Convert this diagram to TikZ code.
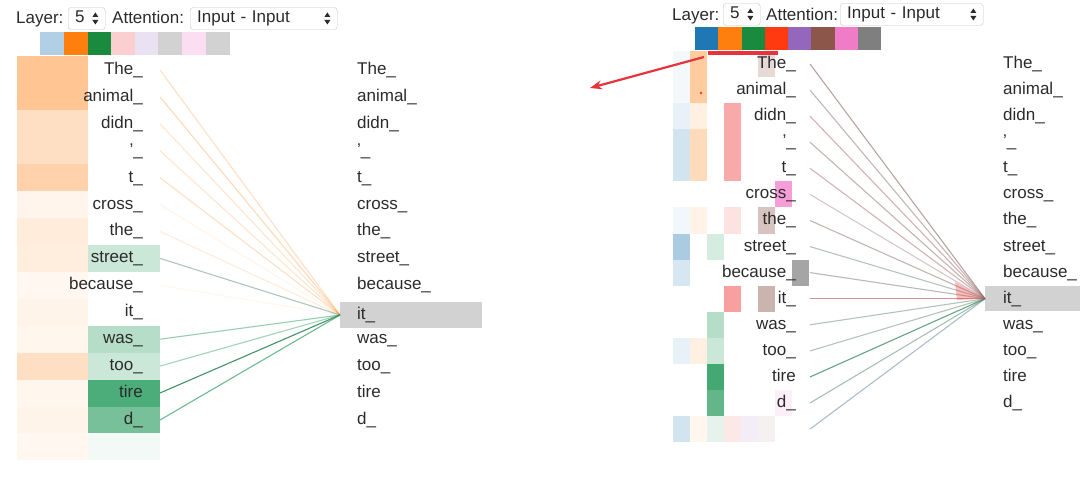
\documentclass[tikz,border=0pt]{standalone}
\usepackage{fontspec}
\setmainfont{Liberation Sans}
\usetikzlibrary{arrows.meta}
\definecolor{hblue}{HTML}{1F77B4}
\definecolor{horange}{HTML}{FF7F0E}
\definecolor{hgreen}{HTML}{1A8A3E}
\definecolor{cgreen}{HTML}{2E9E62}
\definecolor{hred}{HTML}{FF3A10}
\definecolor{cred}{HTML}{F04040}
\definecolor{hpurple}{HTML}{9467BD}
\definecolor{hbrown}{HTML}{8C564B}
\definecolor{hpink}{HTML}{F07CC8}
\definecolor{hgray}{HTML}{7F7F7F}
\definecolor{tokgray}{HTML}{2B2B2B}
\definecolor{hlgray}{HTML}{D2D2D2}
\definecolor{selgray}{HTML}{C4C4C4}
\definecolor{arrowred}{HTML}{E8323C}

\begin{document}
\begin{tikzpicture}[x=1pt, y=-1pt,
    src/.style ={anchor=east, inner xsep=17pt, inner ysep=5.5pt, text height=12pt, text depth=3pt,
                 font=\fontsize{17}{20}\selectfont, text=tokgray},
    tgt/.style ={anchor=west, inner xsep=17pt, inner ysep=5.5pt, text height=12pt, text depth=3pt,
                 text width=108pt, font=\fontsize{17}{20}\selectfont, text=tokgray},
    hdr/.style ={anchor=west, inner sep=0pt, text height=12pt, text depth=3pt,
                 font=\fontsize{17}{20}\selectfont, text=tokgray},
    selbox/.style ={anchor=west, draw=selgray, fill=white, rounded corners=3pt, inner xsep=7pt,
                 inner ysep=0pt, minimum height=22pt, text height=12pt, text depth=3pt, align=left,
                 font=\fontsize{17}{20}\selectfont, text=tokgray},
    att/.style ={line width=1.1pt}]
  \useasboundingbox (0,0) rectangle (1080,481);

  % left panel: header
  \node[hdr] (lay1) at (16,19) {Layer:};
  \node[selbox, text width=23pt] (sel1) at (68,18.5) {5};
  \node[hdr] (atn1) at (112,19) {Attention:};
  \node[selbox, text width=133pt] (mode1) at (190,18.5) {Input - Input};
  \fill[tokgray] (sel1.east) ++(-13,-1.5) -- ++(6,0) -- ++(-3,-4.5) -- cycle
                 (sel1.east) ++(-13,1.5) -- ++(6,0) -- ++(-3,4.5) -- cycle;
  \fill[tokgray] (mode1.east) ++(-13,-1.5) -- ++(6,0) -- ++(-3,-4.5) -- cycle
                 (mode1.east) ++(-13,1.5) -- ++(6,0) -- ++(-3,4.5) -- cycle;

  \fill[hblue!35] (40,32) rectangle (64,55);
  \fill[horange] (64,32) rectangle (88,55);
  \fill[hgreen] (88,32) rectangle (111,55);
  \fill[cred!25] (111,32) rectangle (135,55);
  \fill[hpurple!20] (135,32) rectangle (158,55);
  \fill[hgray!35] (158,32) rectangle (182,55);
  \fill[hpink!25] (182,32) rectangle (206,55);
  \fill[hgray!35] (206,32) rectangle (230,55);

  % left panel: attention cells
  \fill[horange!45] (17,56.5) rectangle (88,110.4);
  \fill[horange!25] (17,110.4) rectangle (88,164.2);
  \fill[horange!35] (17,164.2) rectangle (88,191.1);
  \fill[horange!8] (17,191.1) rectangle (88,218.1);
  \fill[horange!15] (17,218.1) rectangle (88,245.0);
  \fill[horange!14] (17,245.0) rectangle (88,271.9);
  \fill[horange!6] (17,271.9) rectangle (88,298.8);
  \fill[horange!9] (17,298.8) rectangle (88,325.7);
  \fill[horange!7] (17,325.7) rectangle (88,352.7);
  \fill[horange!25] (17,352.7) rectangle (88,379.6);
  \fill[horange!7] (17,379.6) rectangle (88,406.5);
  \fill[horange!9] (17,406.5) rectangle (88,433.4);
  \fill[horange!6] (17,433.4) rectangle (88,460.3);
  \fill[cgreen!25] (88,245.0) rectangle (160,271.9);
  \fill[cgreen!35] (88,325.7) rectangle (160,352.7);
  \fill[cgreen!25] (88,352.7) rectangle (160,379.6);
  \fill[cgreen!85] (88,379.6) rectangle (160,406.5);
  \fill[cgreen!65] (88,406.5) rectangle (160,433.4);
  \fill[cgreen!6] (88,433.4) rectangle (160,460.3);

  % left panel: tokens
  \node[src] (a1)  at (160,70.0)  {The\_};
  \node[src] (a2)  at (160,96.9)  {animal\_};
  \node[src] (a3)  at (160,123.8) {didn\_};
  \node[src] (a4)  at (160,150.8) {'\_};
  \node[src] (a5)  at (160,177.7) {t\_};
  \node[src] (a6)  at (160,204.6) {cross\_};
  \node[src] (a7)  at (160,231.5) {the\_};
  \node[src] (a8)  at (160,258.4) {street\_};
  \node[src] (a9)  at (160,285.4) {because\_};
  \node[src] (a10) at (160,312.3) {it\_};
  \node[src] (a11) at (160,339.2) {was\_};
  \node[src] (a12) at (160,366.1) {too\_};
  \node[src] (a13) at (160,393.0) {tire};
  \node[src] (a14) at (160,420.0) {d\_};

  \node[tgt] (b1)  at (340,70.0)  {The\_};
  \node[tgt] (b2)  at (340,96.9)  {animal\_};
  \node[tgt] (b3)  at (340,123.8) {didn\_};
  \node[tgt] (b4)  at (340,150.8) {'\_};
  \node[tgt] (b5)  at (340,177.7) {t\_};
  \node[tgt] (b6)  at (340,204.6) {cross\_};
  \node[tgt] (b7)  at (340,231.5) {the\_};
  \node[tgt] (b8)  at (340,258.4) {street\_};
  \node[tgt] (b9)  at (340,285.4) {because\_};
  \node[tgt, fill=hlgray] (b10) at (340,315.0) {it\_};
  \node[tgt] (b11) at (340,339.2) {was\_};
  \node[tgt] (b12) at (340,366.1) {too\_};
  \node[tgt] (b13) at (340,393.0) {tire};
  \node[tgt] (b14) at (340,420.0) {d\_};

  \draw[att, horange, draw opacity=.25] (a1.east)  to (b10.west);
  \draw[att, horange, draw opacity=.3]  (a2.east)  to (b10.west);
  \draw[att, horange, draw opacity=.2]  (a3.east)  to (b10.west);
  \draw[att, horange, draw opacity=.2]  (a4.east)  to (b10.west);
  \draw[att, horange, draw opacity=.25] (a5.east)  to (b10.west);
  \draw[att, horange, draw opacity=.08] (a6.east)  to (b10.west);
  \draw[att, horange, draw opacity=.15] (a7.east)  to (b10.west);
  \draw[att, cgreen!40!gray, draw opacity=.5] (a8.east) to (b10.west);
  \draw[att, horange, draw opacity=.06] (a9.east)  to (b10.west);
  \draw[att, cgreen, draw opacity=.5]   (a11.east) to (b10.west);
  \draw[att, cgreen, draw opacity=.45]  (a12.east) to (b10.west);
  \draw[att, cgreen!80!black, draw opacity=.85] (a13.east) to (b10.west);
  \draw[att, cgreen, draw opacity=.7]   (a14.east) to (b10.west);

  % right panel: header
  \node[hdr] (lay2) at (672,16) {Layer:};
  \node[selbox, text width=23pt] (sel2) at (723,14.5) {5};
  \node[hdr] (atn2) at (766,16) {Attention:};
  \node[selbox, text width=129pt] (mode2) at (840,14.5) {Input - Input};
  \fill[tokgray] (sel2.east) ++(-13,-1.5) -- ++(6,0) -- ++(-3,-4.5) -- cycle
                 (sel2.east) ++(-13,1.5) -- ++(6,0) -- ++(-3,4.5) -- cycle;
  \fill[tokgray] (mode2.east) ++(-13,-1.5) -- ++(6,0) -- ++(-3,-4.5) -- cycle
                 (mode2.east) ++(-13,1.5) -- ++(6,0) -- ++(-3,4.5) -- cycle;

  \fill[hblue] (695,27) rectangle (718,50);
  \fill[horange] (718,27) rectangle (742,50);
  \fill[hgreen] (742,27) rectangle (765,50);
  \fill[hred] (765,27) rectangle (788,50);
  \fill[hpurple] (788,27) rectangle (811,50);
  \fill[hbrown] (811,27) rectangle (835,50);
  \fill[hpink] (835,27) rectangle (858,50);
  \fill[hgray] (858,27) rectangle (881,50);

  % right panel: attention cells, one column per head
  \fill[hblue!5]  (673,51.0) rectangle (690,103.2);
  \fill[hblue!10] (673,103.2) rectangle (690,129.2);
  \fill[hblue!20] (673,129.2) rectangle (690,181.4);
  \fill[hblue!6]  (673,207.5) rectangle (690,233.6);
  \fill[hblue!38] (673,233.6) rectangle (690,259.6);
  \fill[hblue!18] (673,259.6) rectangle (690,285.7);
  \fill[hblue!10] (673,337.9) rectangle (690,364.0);
  \fill[hblue!20] (673,416.1) rectangle (690,442.2);
  \fill[horange!40] (690,51.0) rectangle (707,103.2);
  \fill[horange!12] (690,103.2) rectangle (707,129.2);
  \fill[horange!28] (690,129.2) rectangle (707,181.4);
  \fill[horange!10] (690,207.5) rectangle (707,233.6);
  \fill[horange!12] (690,337.9) rectangle (707,364.0);
  \fill[horange!7]  (690,416.1) rectangle (707,442.2);
  \fill[hred] (701,93) circle (1.3);
  \fill[cgreen!20] (707,233.6) rectangle (724,259.6);
  \fill[cgreen!35] (707,311.8) rectangle (724,337.9);
  \fill[cgreen!25] (707,337.9) rectangle (724,364.0);
  \fill[cgreen!90] (707,364.0) rectangle (724,390.0);
  \fill[cgreen!75] (707,390.0) rectangle (724,416.1);
  \fill[cgreen!12] (707,416.1) rectangle (724,442.2);
  \fill[cred!45] (724,103.2) rectangle (741,181.4);
  \fill[cred!15] (724,207.5) rectangle (741,233.6);
  \fill[cred!50] (724,285.7) rectangle (741,311.8);
  \fill[cred!12] (724,416.1) rectangle (741,442.2);
  \fill[hpurple!12] (741,416.1) rectangle (758,442.2);
  \fill[hbrown!22] (758,51.0) rectangle (775,77.1);
  \fill[hbrown!35] (758,207.5) rectangle (775,233.6);
  \fill[hbrown!45] (758,285.7) rectangle (775,311.8);
  \fill[hbrown!8]  (758,416.1) rectangle (775,442.2);
  \fill[hpink!75] (775,181.4) rectangle (792,207.5);
  \fill[hpink!12] (775,390.0) rectangle (792,416.1);
  \fill[hgray!70] (792,259.6) rectangle (809,285.7);

  % right panel: tokens
  \tikzset{src/.append style={inner xsep=14pt}, tgt/.append style={inner xsep=18pt, inner ysep=5pt, text width=59pt}}
  \node[src] (c1)  at (810,64.0)  {The\_};
  \node[src] (c2)  at (810,90.1)  {animal\_};
  \node[src] (c3)  at (810,116.2) {didn\_};
  \node[src] (c4)  at (810,142.2) {'\_};
  \node[src] (c5)  at (810,168.3) {t\_};
  \node[src] (c6)  at (810,194.4) {cross\_};
  \node[src] (c7)  at (810,220.5) {the\_};
  \node[src] (c8)  at (810,246.6) {street\_};
  \node[src] (c9)  at (810,272.6) {because\_};
  \node[src] (c10) at (810,298.7) {it\_};
  \node[src] (c11) at (810,324.8) {was\_};
  \node[src] (c12) at (810,350.9) {too\_};
  \node[src] (c13) at (810,377.0) {tire};
  \node[src] (c14) at (810,403.0) {d\_};
  \coordinate (c15) at (810,429.1);

  \node[tgt] (d1)  at (985,64.0)  {The\_};
  \node[tgt] (d2)  at (985,90.1)  {animal\_};
  \node[tgt] (d3)  at (985,116.2) {didn\_};
  \node[tgt] (d4)  at (985,142.2) {'\_};
  \node[tgt] (d5)  at (985,168.3) {t\_};
  \node[tgt] (d6)  at (985,194.4) {cross\_};
  \node[tgt] (d7)  at (985,220.5) {the\_};
  \node[tgt] (d8)  at (985,246.6) {street\_};
  \node[tgt] (d9)  at (985,272.6) {because\_};
  \node[tgt, fill=hlgray] (d10) at (985,298.7) {it\_};
  \node[tgt] (d11) at (985,324.8) {was\_};
  \node[tgt] (d12) at (985,350.9) {too\_};
  \node[tgt] (d13) at (985,377.0) {tire};
  \node[tgt] (d14) at (985,403.0) {d\_};

  \draw[att, hbrown!60!gray, draw opacity=.6]  (c1.east)  to (d10.west);
  \draw[att, hbrown!40!gray, draw opacity=.5]  (c2.east)  to (d10.west);
  \draw[att, cred!40!gray, draw opacity=.5]    (c3.east)  to (d10.west);
  \draw[att, hbrown!50!gray, draw opacity=.5]  (c4.east)  to (d10.west);
  \draw[att, cred!40!gray, draw opacity=.5]    (c5.east)  to (d10.west);
  \draw[att, hpink!30!gray, draw opacity=.45]  (c6.east)  to (d10.west);
  \draw[att, hbrown!50!gray, draw opacity=.5]  (c7.east)  to (d10.west);
  \draw[att, cgreen!20!gray, draw opacity=.5]  (c8.east)  to (d10.west);
  \draw[att, hgray, draw opacity=.55]          (c9.east)  to (d10.west);
  \draw[att, hbrown!70!cred, draw opacity=.6]  (c10.east) to (d10.west);
  \draw[att, hgray!70!cgreen, draw opacity=.5] (c11.east) to (d10.west);
  \draw[att, hgray!70!cgreen, draw opacity=.5] (c12.east) to (d10.west);
  \draw[att, cgreen!80!black, draw opacity=.7] (c13.east) to (d10.west);
  \draw[att, hgray!60!cgreen, draw opacity=.55] (c14.east) to (d10.west);
  \draw[att, hgray!60!hblue, draw opacity=.5]  (c15) to (d10.west);
  \fill[cred, opacity=.35] (955,282) -- (d10.west) -- (957,300) -- cycle;

  % red pointer
  \coordinate (mark1) at (708,53);
  \coordinate (mark2) at (778,53);
  \coordinate (ptr1) at (704,57);
  \coordinate (ptr2) at (590,88);
  \draw[arrowred, line width=3.5pt] (mark1) -- (mark2);
  \draw[arrowred, line width=2.2pt, -{Stealth[length=12pt, width=9pt]}] (ptr1) -- (ptr2);

\end{tikzpicture}
\end{document}
